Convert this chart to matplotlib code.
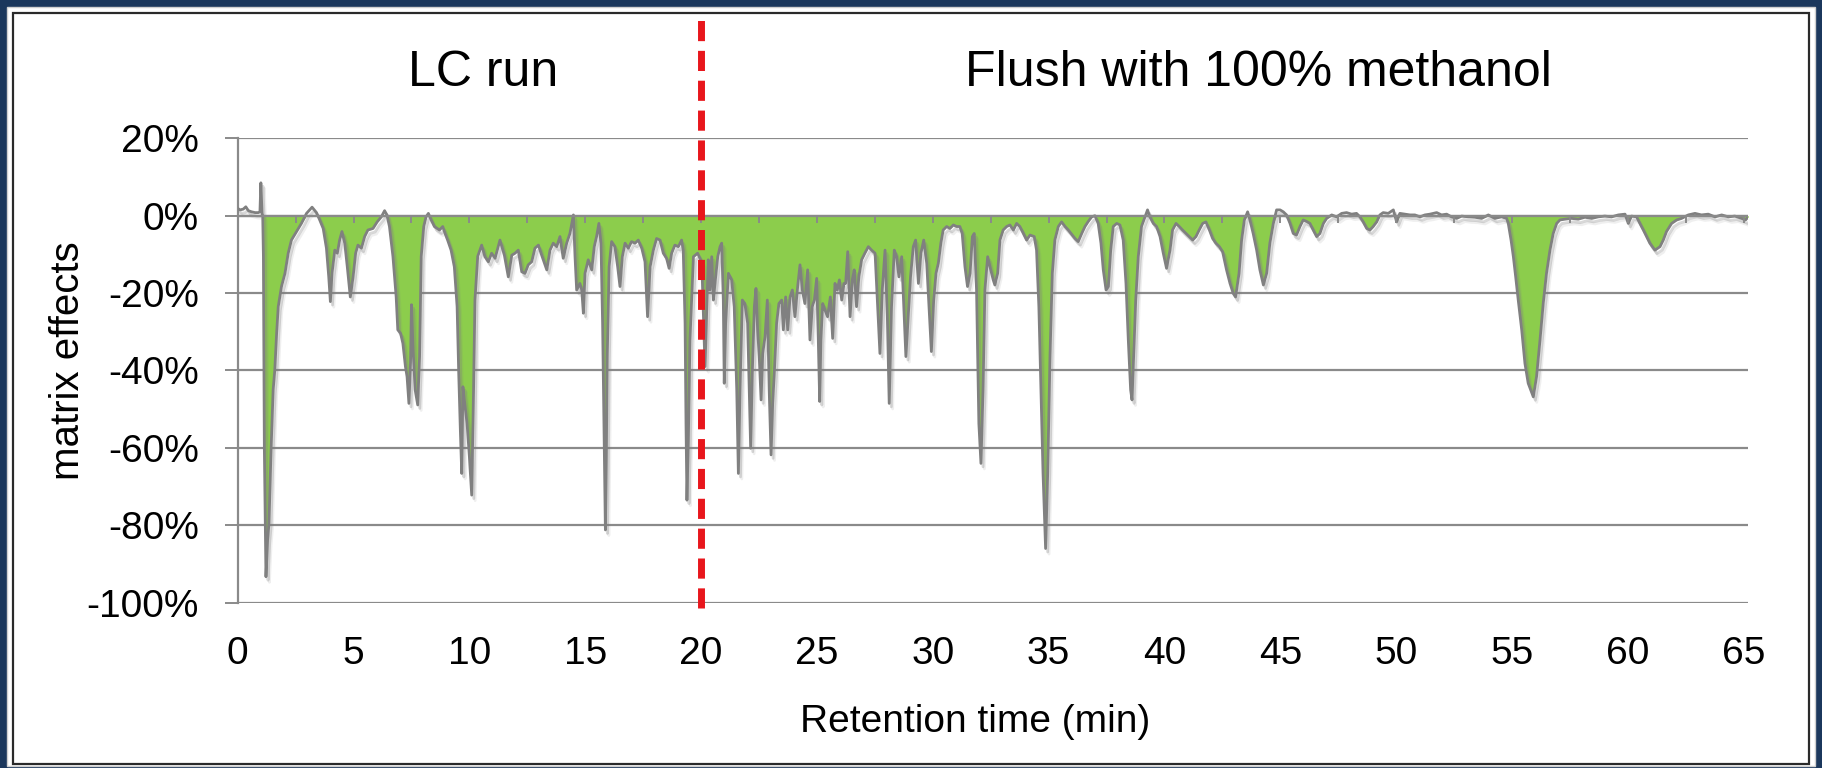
import matplotlib.pyplot as plt
import matplotlib.patheffects as pe
from matplotlib.patches import Rectangle
import numpy as np

plt.rcParams['font.family'] = ['Liberation Sans', 'DejaVu Sans']

# matrix effect trace (retention time in min, effect in %)
# LC gradient, first half
lc_early = [
    (0.0, 1.9), (0.1, 1.5), (0.24, 1.7), (0.35, 2.3), (0.46, 1.3), (0.6, 1.0),
    (0.75, 0.8), (0.89, 0.8), (0.96, 1.0), (1.0, 8.5), (1.05, 0.6), (1.08, 0.0),
    (1.11, -10.6), (1.15, -60.0), (1.19, -79.5), (1.22, -93.3), (1.29, -83.8),
    (1.35, -79.5), (1.44, -60.5), (1.53, -45.0), (1.6, -40.0), (1.68, -30.4),
    (1.75, -23.5), (1.89, -18.3), (2.04, -14.9), (2.18, -9.7), (2.32, -6.3),
    (2.54, -4.1), (2.75, -2.0), (2.97, 0.6), (3.21, 2.2), (3.4, 0.8), (3.54, -1.1),
    (3.69, -3.3), (3.83, -8.4), (3.93, -15.8), (4.0, -22.2), (4.07, -14.9),
    (4.19, -8.9), (4.3, -9.7), (4.4, -6.3), (4.5, -4.1), (4.62, -7.1), (4.73, -13.2),
    (4.86, -21.0), (4.98, -15.8), (5.09, -9.7), (5.19, -7.6), (5.34, -8.4),
    (5.48, -5.4), (5.62, -3.7), (5.84, -3.3), (6.02, -1.6), (6.2, -0.3), (6.34, 1.3),
    (6.44, 0.2), (6.55, -2.8), (6.7, -10.5), (6.84, -21.0), (6.91, -29.5),
    (7.03, -30.4), (7.13, -33.0), (7.24, -39.0), (7.31, -41.6), (7.39, -48.5),
    (7.46, -38.0), (7.5, -23.0), (7.57, -34.7), (7.66, -45.0), (7.77, -48.9),
    (7.85, -36.4), (7.92, -10.6), (8.03, -2.8), (8.13, -0.3), (8.23, 0.6),
    (8.35, -1.1), (8.49, -2.8), (8.71, -3.7), (8.85, -2.8), (8.95, -4.6),
    (9.06, -6.3), (9.21, -8.9), (9.35, -13.2), (9.47, -23.5), (9.54, -40.7),
    (9.61, -55.4), (9.67, -66.6), (9.72, -44.2), (9.78, -47.6), (9.9, -53.7),
    (10.0, -62.3), (10.1, -72.2), (10.18, -45.0), (10.24, -21.8), (10.36, -10.5),
]

# LC gradient, second half
lc_late = [
    (10.53, -7.6), (10.67, -10.6), (10.82, -11.9), (10.96, -9.7), (11.11, -11.0),
    (11.32, -6.3), (11.51, -10.2), (11.68, -15.8), (11.83, -10.2), (11.97, -9.7),
    (12.11, -8.9), (12.26, -14.5), (12.4, -14.9), (12.54, -12.7), (12.69, -11.9),
    (12.83, -8.4), (12.98, -7.6), (13.12, -10.2), (13.34, -14.0), (13.48, -8.9),
    (13.62, -7.1), (13.77, -8.0), (13.91, -5.4), (14.05, -11.0), (14.2, -7.1),
    (14.34, -4.6), (14.49, 0.2), (14.56, -10.6), (14.63, -19.2), (14.77, -17.5),
    (14.85, -19.2), (14.92, -25.2), (14.99, -14.9), (15.13, -11.4), (15.28, -14.0),
    (15.39, -8.0), (15.49, -5.4), (15.59, -2.0), (15.68, -7.1), (15.75, -27.8),
    (15.82, -58.0), (15.87, -81.2), (15.91, -62.3), (15.95, -36.4), (16.03, -13.2),
    (16.14, -6.7), (16.28, -8.0), (16.4, -13.2), (16.5, -18.3), (16.6, -10.6),
    (16.72, -7.1), (16.86, -8.4), (17.0, -6.7), (17.15, -7.1), (17.29, -6.3),
    (17.44, -8.4), (17.58, -11.9), (17.69, -26.1), (17.8, -13.2), (17.94, -8.9),
    (18.08, -5.9), (18.23, -6.3), (18.37, -9.7), (18.51, -11.0), (18.62, -13.6),
    (18.73, -9.7), (18.87, -7.6), (19.02, -8.0), (19.16, -6.3), (19.23, -8.9),
    (19.31, -27.8), (19.35, -53.7), (19.39, -73.5), (19.45, -58.0), (19.52, -32.1),
    (19.67, -10.6), (19.85, -9.7),
]

# methanol flush, 20-32 min
flush_early = [
    (20.03, -12.0), (20.17, -39.0), (20.31, -11.4), (20.38, -19.2), (20.46, -10.6),
    (20.53, -21.8), (20.6, -17.5), (20.72, -10.6), (20.82, -8.0), (20.89, -7.1),
    (20.96, -21.8), (21.0, -43.3), (21.06, -27.8), (21.18, -14.9), (21.32, -16.6),
    (21.43, -23.5), (21.54, -45.0), (21.61, -66.6), (21.68, -45.0), (21.78, -21.8),
    (21.89, -22.7), (22.01, -27.8), (22.08, -45.0), (22.14, -60.1), (22.21, -40.7),
    (22.3, -23.5), (22.37, -18.8), (22.44, -29.5), (22.51, -36.4), (22.59, -47.6),
    (22.66, -35.6), (22.76, -31.3), (22.86, -21.8), (22.94, -45.0), (23.02, -61.8),
    (23.09, -48.5), (23.16, -40.7), (23.26, -27.8), (23.36, -22.7), (23.48, -21.8),
    (23.55, -29.5), (23.65, -21.0), (23.74, -29.5), (23.84, -21.0), (23.94, -19.2),
    (24.05, -26.1), (24.17, -18.3), (24.27, -12.7), (24.37, -19.2), (24.48, -22.7),
    (24.6, -14.0), (24.7, -32.1), (24.8, -23.5), (24.89, -21.8), (24.99, -16.2),
    (25.06, -32.1), (25.12, -48.0), (25.17, -32.1), (25.25, -22.7), (25.35, -24.4),
    (25.46, -26.1), (25.58, -21.0), (25.68, -31.7), (25.78, -17.5), (25.88, -19.2),
    (25.97, -16.6), (26.07, -21.8), (26.17, -17.5), (26.24, -17.5), (26.33, -9.3),
    (26.43, -26.1), (26.53, -16.6), (26.61, -14.0), (26.71, -23.5), (26.81, -15.8),
    (26.93, -11.4), (27.07, -9.7), (27.22, -8.0), (27.36, -8.9), (27.51, -9.7),
    (27.61, -21.8), (27.72, -35.6), (27.82, -19.2), (27.94, -8.9), (28.04, -26.1),
    (28.12, -48.5), (28.22, -23.5), (28.34, -8.9), (28.44, -10.6), (28.54, -15.8),
    (28.66, -10.6), (28.74, -21.8), (28.84, -36.4), (28.94, -26.1), (29.04, -15.8),
    (29.16, -8.0), (29.26, -6.3), (29.38, -17.5), (29.49, -9.7), (29.61, -6.3),
    (29.74, -12.3), (29.84, -23.5), (29.94, -35.1), (30.04, -21.8), (30.14, -14.9),
    (30.24, -12.3), (30.35, -7.1), (30.45, -3.7), (30.6, -2.8), (30.74, -3.3),
    (30.89, -2.4), (31.03, -2.8), (31.17, -2.8), (31.27, -4.6), (31.39, -13.2),
    (31.5, -18.3), (31.61, -14.9), (31.71, -5.4), (31.79, -4.6), (31.89, -19.2),
    (31.99, -53.7), (32.08, -64.0), (32.17, -45.0), (32.25, -19.2),
]

# methanol flush, 32-47 min
flush_mid = [
    (32.37, -10.6), (32.47, -13.2), (32.61, -16.6), (32.68, -17.9), (32.8, -14.9),
    (32.9, -6.3), (33.04, -3.7), (33.19, -2.8), (33.33, -2.4), (33.48, -3.7),
    (33.62, -2.0), (33.76, -2.8), (33.91, -4.6), (34.05, -6.3), (34.2, -5.0),
    (34.38, -5.4), (34.48, -8.9), (34.58, -23.5), (34.67, -45.0), (34.76, -66.6),
    (34.87, -86.0), (34.96, -66.6), (35.06, -36.4), (35.16, -14.9), (35.27, -6.3),
    (35.42, -2.8), (35.56, -1.6), (35.71, -2.8), (35.85, -3.7), (36.02, -5.0),
    (36.14, -5.9), (36.28, -6.7), (36.43, -4.6), (36.57, -2.8), (36.71, -1.5),
    (36.86, -0.3), (37.0, 0.0), (37.14, -2.0), (37.26, -7.1), (37.36, -14.0),
    (37.48, -19.2), (37.58, -18.3), (37.68, -8.9), (37.79, -2.8), (37.94, -2.0),
    (38.08, -2.4), (38.22, -6.3), (38.34, -17.5), (38.44, -32.1), (38.54, -45.0),
    (38.6, -47.6), (38.67, -36.4), (38.76, -21.8), (38.87, -10.6), (39.01, -2.8),
    (39.16, -0.3), (39.27, 1.5), (39.37, -0.3), (39.52, -2.0), (39.66, -2.8),
    (39.81, -5.4), (39.95, -9.7), (40.09, -13.6), (40.24, -8.9), (40.35, -3.7),
    (40.5, -2.0), (40.64, -2.8), (40.78, -3.7), (40.93, -4.6), (41.07, -5.4),
    (41.22, -6.3), (41.36, -5.4), (41.5, -3.7), (41.65, -2.0), (41.79, -1.6),
    (41.94, -3.7), (42.08, -5.9), (42.22, -7.1), (42.37, -8.0), (42.51, -9.3),
    (42.68, -14.0), (42.83, -17.5), (42.97, -20.1), (43.07, -21.0), (43.22, -14.9),
    (43.33, -6.3), (43.45, -1.1), (43.59, 1.0), (43.69, -1.1), (43.83, -4.6),
    (43.98, -8.9), (44.12, -14.0), (44.27, -17.9), (44.41, -14.9), (44.55, -7.1),
    (44.7, -2.0), (44.84, 1.5), (44.99, 1.5), (45.13, 1.0), (45.27, 0.2),
    (45.42, -2.0), (45.56, -4.6), (45.7, -5.0), (45.85, -2.8), (45.99, -1.1),
    (46.14, -1.5), (46.28, -2.0), (46.42, -3.7), (46.57, -5.4), (46.71, -4.6),
    (46.86, -2.0),
]

# methanol flush, 47 min to end
flush_late = [
    (47.0, -0.7), (47.22, 0.2), (47.43, -0.3), (47.65, 0.6), (47.86, 0.8),
    (48.08, 0.4), (48.29, 0.6), (48.44, -0.3), (48.58, -1.6), (48.73, -3.3),
    (48.87, -3.7), (49.01, -2.8), (49.16, -1.6), (49.3, 0.2), (49.44, 0.8),
    (49.66, 0.6), (49.88, 1.5), (50.02, -1.6), (50.16, 0.6), (50.38, 0.4),
    (50.6, 0.2), (50.81, 0.2), (51.03, -0.3), (51.24, 0.2), (51.46, 0.4),
    (51.75, 0.8), (51.96, 0.2), (52.18, 0.4), (52.39, -0.3), (52.61, -0.7),
    (52.83, -0.1), (53.11, -0.3), (53.4, -0.4), (53.69, -0.7), (53.98, 0.2),
    (54.26, -0.7), (54.55, -0.3), (54.77, -0.7), (54.84, -2.0), (54.96, -6.3),
    (55.06, -10.6), (55.16, -15.8), (55.27, -21.8), (55.42, -29.5), (55.56, -38.2),
    (55.7, -43.3), (55.92, -46.8), (56.06, -41.6), (56.21, -32.1), (56.35, -22.6),
    (56.49, -14.9), (56.64, -8.9), (56.78, -4.6), (56.93, -2.0), (57.07, -1.1),
    (57.29, -0.9), (57.57, -0.7), (57.86, -0.9), (58.15, -0.4), (58.44, -0.7),
    (58.72, -0.3), (59.01, -0.1), (59.3, -0.3), (59.59, 0.2), (59.88, 0.4),
    (60.02, -2.0), (60.16, -0.1), (60.38, -0.3), (60.52, -2.0), (60.67, -3.7),
    (60.81, -5.4), (60.95, -7.1), (61.17, -8.9), (61.39, -8.0), (61.53, -6.3),
    (61.67, -4.1), (61.89, -2.0), (62.11, -1.1), (62.32, -0.7), (62.61, 0.2),
    (62.9, 0.6), (63.18, 0.2), (63.47, 0.4), (63.76, -0.3), (64.05, 0.2),
    (64.34, -0.3), (64.62, -0.1), (64.91, -0.7), (65.08, -1.1), (65.2, -0.3),
]

lc_end = 20  # end of LC gradient, start of flush
y_ticks = [20, 0, -20, -40, -60, -80, -100]
x_ticks = [0, 5, 10, 15, 20, 25, 30, 35, 40, 45, 50, 55, 60, 65]
x_marks = np.arange(2.5, 65.1, 2.5)

trace = np.array(lc_early + lc_late + flush_early + flush_mid + flush_late)
t, effect = trace[:, 0], trace[:, 1]

W, H = 1822, 768
navy = '#1b375c'
grid_c = '#8a8a8a'

fig = plt.figure(figsize=(W / 100, H / 100), dpi=100, facecolor=navy)
# white slide panel with a thin dark frame
fig.patches.append(Rectangle((7 / W, 2 / H), 1808 / W, 759 / H,
                             transform=fig.transFigure, facecolor='white',
                             edgecolor='#d0d0d0', lw=1.0, zorder=-6))
fig.patches.append(Rectangle((13 / W, 4 / H), 1796 / W, 751 / H,
                             transform=fig.transFigure, facecolor='none',
                             edgecolor='#2a2a2a', lw=1.6, zorder=-5))

x0, x1, ytop, ybot = 237.7, 1748.3, 138.3, 602.7
ax = fig.add_axes([x0 / W, 1 - ybot / H, (x1 - x0) / W, (ybot - ytop) / H])
ax.set_zorder(2)
ax.patch.set_alpha(0)
ax.set_xlim(0, 65.2)
ax.set_ylim(-100, 20)

ax.fill_between(t, np.minimum(effect, 0), 0, color='#8ccd4c', lw=0, zorder=2)
ax.plot(t, effect, color='#808080', lw=2.0, zorder=3, solid_joinstyle='round',
        path_effects=[pe.SimpleLineShadow(offset=(1.5, -2.5), shadow_color='#808080', alpha=0.3),
                      pe.SimpleLineShadow(offset=(2.5, -4), shadow_color='#808080', alpha=0.12),
                      pe.Normal()])

# horizontal axis crossing at 0 % with its small tick marks
ax.axhline(0, color=grid_c, lw=1.6, zorder=4)
ax.vlines(x_marks, -1.8, 0, color=grid_c, lw=1.4, zorder=4)

ax.set_yticks(y_ticks)
ax.set_yticklabels([f'{v}%' for v in y_ticks])
ax.yaxis.grid(True, color=grid_c, lw=1.6)
ax.set_axisbelow(True)
ax.set_xticks(x_ticks)
ax.set_xticklabels([str(v) for v in x_ticks])

for side in ['top', 'right', 'bottom']:
    ax.spines[side].set_visible(False)
ax.spines['left'].set_color(grid_c)
ax.spines['left'].set_linewidth(1.6)
ax.tick_params(axis='y', length=9.1, width=1.4, color=grid_c, labelsize=28, pad=19)
ax.tick_params(axis='x', length=0, labelsize=28, pad=24)

ax.axvline(lc_end, ymin=-0.0114, ymax=1.2655, color='#e8161c', lw=5,
           dashes=(2.9, 1.4), clip_on=False, zorder=5)

ax.text(10.59, 1.1126, 'LC run', transform=ax.get_xaxis_transform(),
        ha='center', va='baseline', fontsize=36)
ax.text(44.06, 1.1126, 'Flush with 100% methanol', transform=ax.get_xaxis_transform(),
        ha='center', va='baseline', fontsize=36)

fig.text(68 / W, 1 - 361 / H, 'matrix effects', rotation=90,
         ha='center', va='center', fontsize=29)
fig.text(975 / W, 1 - 722 / H, 'Retention time (min)',
         ha='center', va='center', fontsize=28)

fig.savefig('out.png', dpi=100, facecolor=fig.get_facecolor())
